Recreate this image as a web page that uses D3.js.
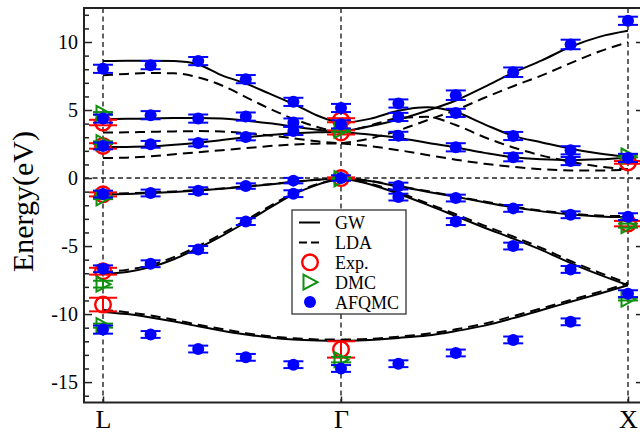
<!DOCTYPE html>
<html>
<head>
<meta charset="utf-8">
<script src="https://cdn.jsdelivr.net/npm/d3@7"></script>
<style>
body { margin: 0; background: #fff; }
svg { display: block; }
</style>
</head>
<body>
<script>
// k path: 0 = L, 1 = Gamma, 2 = X
var kPoints = [0, 1, 2];
var kLabels = ["L", "Γ", "X"];
var yMajor = [-15, -10, -5, 0, 5, 10];
var yMinor = [-16, -14, -13, -12, -11, -9, -8, -7, -6, -4, -3, -2, -1, 1, 2, 3, 4, 6, 7, 8, 9, 11, 12];

var kLG = [0, 0.1, 0.2, 0.3, 0.4, 0.5, 0.6, 0.7, 0.8, 0.9, 1];
var kGX = [1, 1.1, 1.2, 1.3, 1.4, 1.5, 1.6, 1.7, 1.8, 1.9, 2];

// GW bands (solid)
var gwLG = [
  [-9.84, -10.0, -10.25, -10.55, -10.9, -11.22, -11.5, -11.72, -11.87, -11.94, -11.96],
  [-7.04, -6.9, -6.55, -5.95, -5.15, -4.25, -3.25, -2.2, -1.2, -0.5, 0],
  [-1.2, -1.17, -1.1, -1.02, -0.92, -0.79, -0.64, -0.47, -0.3, -0.13, 0],
  [2.28, 2.29, 2.33, 2.45, 2.6, 2.8, 3.0, 3.17, 3.3, 3.37, 3.39],
  [4.32, 4.35, 4.38, 4.41, 4.42, 4.38, 4.22, 4.02, 3.78, 3.55, 3.39],
  [8.6, 8.62, 8.63, 8.6, 8.35, 7.55, 6.95, 6.2, 5.45, 4.6, 4.0]
];
var gwGX = [
  [-11.96, -11.9, -11.75, -11.58, -11.25, -10.85, -10.3, -9.7, -9.1, -8.5, -7.88],
  [0, -0.45, -1.15, -1.95, -2.8, -3.65, -4.45, -5.3, -6.25, -7.1, -7.88],
  [0, -0.22, -0.62, -1.0, -1.38, -1.78, -2.15, -2.45, -2.68, -2.82, -2.87],
  [3.39, 3.2, 2.95, 2.6, 2.25, 1.85, 1.52, 1.38, 1.33, 1.38, 1.5],
  [3.39, 3.8, 4.3, 4.95, 5.7, 6.7, 7.75, 8.65, 9.65, 10.38, 10.82],
  [4.0, 4.35, 4.95, 5.2, 4.85, 3.95, 3.1, 2.62, 2.16, 1.8, 1.55]
];

// LDA bands (dashed)
var ldaLG = [
  [-9.7, -9.86, -10.1, -10.42, -10.78, -11.1, -11.4, -11.63, -11.78, -11.86, -11.88],
  [-6.9, -6.75, -6.4, -5.8, -5.0, -4.1, -3.1, -2.08, -1.12, -0.45, 0],
  [-1.15, -1.12, -1.06, -0.98, -0.88, -0.76, -0.61, -0.45, -0.28, -0.12, 0],
  [1.47, 1.5, 1.6, 1.75, 1.9, 2.05, 2.2, 2.35, 2.47, 2.53, 2.55],
  [3.34, 3.36, 3.4, 3.43, 3.45, 3.42, 3.3, 3.13, 2.92, 2.7, 2.55],
  [7.56, 7.65, 7.72, 7.7, 7.4, 6.8, 5.95, 5.1, 4.35, 3.75, 3.3]
];
var ldaGX = [
  [-11.88, -11.82, -11.66, -11.45, -11.12, -10.7, -10.15, -9.57, -8.97, -8.37, -7.75],
  [0, -0.4, -1.05, -1.85, -2.65, -3.5, -4.3, -5.15, -6.1, -6.95, -7.75],
  [0, -0.2, -0.58, -0.96, -1.34, -1.73, -2.1, -2.4, -2.62, -2.76, -2.8],
  [2.55, 2.35, 2.05, 1.7, 1.35, 1.05, 0.82, 0.65, 0.56, 0.55, 0.62],
  [2.55, 2.9, 3.5, 4.25, 5.0, 5.9, 6.75, 7.55, 8.45, 9.3, 9.98],
  [3.3, 3.85, 4.4, 4.5, 3.9, 3.0, 2.25, 1.65, 1.2, 0.85, 0.65]
];

// AFQMC
var afqmcK = [0, 0, 0, 0, 0, 0,
  0.2, 0.2, 0.2, 0.2, 0.2, 0.2,
  0.4, 0.4, 0.4, 0.4, 0.4, 0.4,
  0.6, 0.6, 0.6, 0.6, 0.6, 0.6,
  0.8, 0.8, 0.8, 0.8, 0.8, 0.8,
  1, 1, 1, 1,
  1.2, 1.2, 1.2, 1.2, 1.2, 1.2,
  1.4, 1.4, 1.4, 1.4, 1.4, 1.4,
  1.6, 1.6, 1.6, 1.6, 1.6, 1.6,
  1.8, 1.8, 1.8, 1.8, 1.8, 1.8,
  2, 2, 2, 2];
var afqmcE = [8.03, 4.37, 2.36, -1.18, -6.67, -11.14,
  8.3, 4.62, 2.48, -1.1, -6.3, -11.5,
  8.6, 4.37, 2.58, -0.93, -5.25, -12.57,
  7.27, 4.52, 3.02, -0.59, -3.2, -13.18,
  5.6, 4.08, 3.46, -0.19, -1.15, -13.72,
  5.15, 3.95, 0, -14.0,
  5.48, 4.49, 3.1, -0.59, -1.4, -13.65,
  6.09, 4.79, 2.26, -1.47, -3.2, -12.86,
  7.78, 3.09, 1.53, -2.23, -5.0, -11.9,
  9.82, 2.04, 1.25, -2.7, -6.72, -10.57,
  11.56, 1.48, -2.84, -8.5];
var afqmcErr = [0.3, 0.3, 0.25, 0.25, 0.25, 0.3,
  0.3, 0.3, 0.25, 0.25, 0.25, 0.25,
  0.3, 0.3, 0.25, 0.25, 0.25, 0.25,
  0.3, 0.3, 0.25, 0.2, 0.25, 0.25,
  0.3, 0.3, 0.3, 0.2, 0.25, 0.25,
  0.3, 0.3, 0.2, 0.25,
  0.3, 0.3, 0.3, 0.25, 0.25, 0.25,
  0.35, 0.3, 0.3, 0.25, 0.25, 0.25,
  0.35, 0.3, 0.3, 0.25, 0.25, 0.25,
  0.35, 0.3, 0.3, 0.25, 0.25, 0.25,
  0.3, 0.3, 0.25, 0.25];

// Experiment
var expK = [0, 0, 0, 0, 0, 1, 1, 1, 1, 2, 2];
var expE = [4.08, 2.36, -1.2, -6.85, -9.3, 4.25, 3.35, 0, -12.6, 1.15, -3.35];
var expErr = [0.2, 0.2, 0.15, 0.25, 0.5, 0.15, 0.15, 0.05, 0.6, 0.1, 0.2];

// DMC
var dmcK = [0, 0, 0, 0, 0, 1, 1, 1, 2, 2, 2];
var dmcE = [4.75, 2.6, -1.45, -7.8, -10.85, 3.5, -0.05, -13.35, 1.62, -3.5, -8.9];
var dmcErr = [0.1, 0.1, 0.1, 0.25, 0.15, 0.1, 0.05, 0.2, 0.1, 0.15, 0.1];

var W = 640, H = 434;
var plotLeft = 84, plotRight = 644, plotTop = 8, plotBottom = 402.5;
var serif = "'Liberation Serif', 'Times New Roman', 'DejaVu Serif', serif";

var svg = d3.select("body").append("svg")
    .attr("width", W)
    .attr("height", H)
    .style("font-family", serif);

var x = d3.scaleLinear().domain(kPoints).range([103, 341, 628]);
var y = d3.scaleLinear().domain([-16.5, 12.5]).range([plotBottom, plotTop]);

// guide lines: Fermi level and high-symmetry points
svg.append("line")
    .attr("x1", plotLeft).attr("x2", plotRight)
    .attr("y1", y(0)).attr("y2", y(0))
    .attr("stroke", "#222").attr("stroke-width", 1.4)
    .attr("stroke-dasharray", "5,3.5");
svg.selectAll("line.kline")
    .data(kPoints)
    .enter()
    .append("line")
    .attr("class", "kline")
    .attr("x1", d => x(d)).attr("x2", d => x(d))
    .attr("y1", plotTop).attr("y2", plotBottom)
    .attr("stroke", "#222").attr("stroke-width", 1.4)
    .attr("stroke-dasharray", "5,3.5");

var line = d3.line()
    .x(d => x(d[0]))
    .y(d => y(d[1]))
    .curve(d3.curveMonotoneX);

function drawBands(bands, ks, dash) {
    bands.forEach(function(b) {
        svg.append("path")
            .datum(ks.map((k, i) => [k, b[i]]))
            .attr("d", line)
            .attr("fill", "none")
            .attr("stroke", "#000")
            .attr("stroke-width", 2)
            .attr("stroke-dasharray", dash);
    });
}
drawBands(ldaLG, kLG, "10,6");
drawBands(ldaGX, kGX, "10,6");
drawBands(gwLG, kLG, null);
drawBands(gwGX, kGX, null);

function errorBars(ks, es, errs, color, half) {
    var g = svg.append("g").attr("stroke", color).attr("stroke-width", 2);
    ks.forEach(function(k, i) {
        var cx = x(k), y1 = y(es[i] + errs[i]), y2 = y(es[i] - errs[i]);
        g.append("line").attr("x1", cx).attr("x2", cx).attr("y1", y1).attr("y2", y2);
        g.append("line").attr("x1", cx - half).attr("x2", cx + half).attr("y1", y1).attr("y2", y1);
        g.append("line").attr("x1", cx - half).attr("x2", cx + half).attr("y1", y2).attr("y2", y2);
    });
}

var triPath = "M-6.5,-7.5L7.5,0L-6.5,7.5Z";

// Exp.
errorBars(expK, expE, expErr, "#ff0000", 14);
svg.selectAll("circle.exp")
    .data(expK)
    .enter()
    .append("circle")
    .attr("class", "exp")
    .attr("cx", d => x(d))
    .attr("cy", (d, i) => y(expE[i]))
    .attr("r", 7.8)
    .attr("fill", "none")
    .attr("stroke", "#ff0000")
    .attr("stroke-width", 2.4);

// DMC
errorBars(dmcK, dmcE, dmcErr, "#109010", 10);
svg.selectAll("path.dmc")
    .data(dmcK)
    .enter()
    .append("path")
    .attr("class", "dmc")
    .attr("d", triPath)
    .attr("transform", (d, i) => "translate(" + x(d) + "," + y(dmcE[i]) + ")")
    .attr("fill", "none")
    .attr("stroke", "#109010")
    .attr("stroke-width", 2);

// AFQMC
errorBars(afqmcK, afqmcE, afqmcErr, "#0000ff", 10);
svg.selectAll("circle.afqmc")
    .data(afqmcK)
    .enter()
    .append("circle")
    .attr("class", "afqmc")
    .attr("cx", d => x(d))
    .attr("cy", (d, i) => y(afqmcE[i]))
    .attr("r", 6)
    .attr("fill", "#0000ff");

// legend
var lg = svg.append("g").attr("transform", "translate(292,210)");
lg.append("rect")
    .attr("width", 114).attr("height", 104)
    .attr("fill", "#fff").attr("stroke", "#333").attr("stroke-width", 1.3);
var legendNames = ["GW", "LDA", "Exp.", "DMC", "AFQMC"];
legendNames.forEach(function(name, i) {
    var cy = 12.5 + i * 19.9;
    if (i < 2) {
        lg.append("line")
            .attr("x1", 7).attr("x2", 28).attr("y1", cy).attr("y2", cy)
            .attr("stroke", "#000").attr("stroke-width", 2)
            .attr("stroke-dasharray", i === 1 ? "8,4" : null);
    } else if (i === 2) {
        lg.append("circle").attr("cx", 18).attr("cy", cy).attr("r", 7.8)
            .attr("fill", "none").attr("stroke", "#ff0000").attr("stroke-width", 2.4);
    } else if (i === 3) {
        lg.append("path").attr("d", triPath)
            .attr("transform", "translate(18," + cy + ")")
            .attr("fill", "none").attr("stroke", "#109010").attr("stroke-width", 2);
    } else {
        lg.append("circle").attr("cx", 18).attr("cy", cy).attr("r", 6).attr("fill", "#0000ff");
    }
    lg.append("text")
        .attr("x", 43).attr("y", cy + 6.5)
        .attr("font-size", 18)
        .text(name);
});

// axes
function styleAxis(g) {
    g.select(".domain").remove();
    g.attr("font-family", serif);
    g.selectAll(".tick line").attr("stroke", "#222").attr("stroke-width", 1.5);
    g.selectAll(".tick text").attr("fill", "#000").style("font-family", serif);
}
svg.append("g")
    .attr("transform", "translate(" + plotLeft + ",0)")
    .call(d3.axisLeft(y).tickValues(yMinor).tickSize(-5).tickFormat(""))
    .call(styleAxis);
svg.append("g")
    .attr("transform", "translate(" + plotLeft + ",0)")
    .call(d3.axisLeft(y).tickValues(yMajor).tickSize(-8).tickPadding(6).tickFormat(d => String(d)))
    .call(styleAxis)
    .attr("font-size", 20);
svg.append("g")
    .attr("transform", "translate(" + plotRight + ",0)")
    .call(d3.axisRight(y).tickValues(yMajor).tickSize(-8).tickFormat(""))
    .call(styleAxis);
svg.append("g")
    .attr("transform", "translate(0," + plotBottom + ")")
    .call(d3.axisBottom(x).tickValues(kPoints).tickSize(-6).tickPadding(7).tickFormat((d, i) => kLabels[i]))
    .call(styleAxis)
    .attr("font-size", 26);

svg.append("rect")
    .attr("x", plotLeft).attr("y", plotTop)
    .attr("width", plotRight - plotLeft).attr("height", plotBottom - plotTop)
    .attr("fill", "none").attr("stroke", "#222").attr("stroke-width", 2);

svg.append("text")
    .attr("transform", "translate(33,201.5) rotate(-90)")
    .attr("text-anchor", "middle")
    .attr("font-size", 30)
    .text("Energy(eV)");
</script>
</body>
</html>
